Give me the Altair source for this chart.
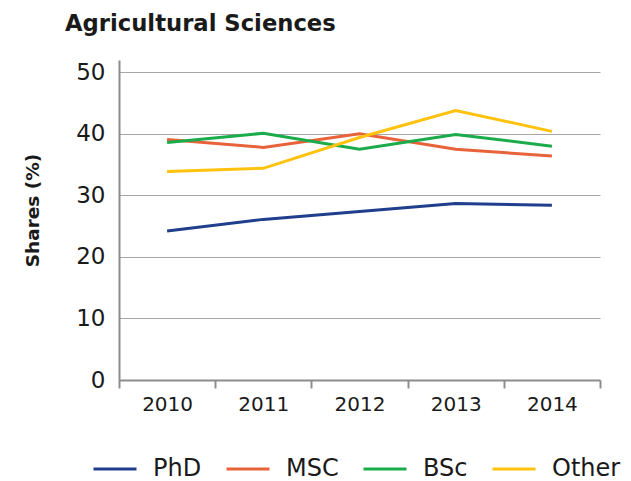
import altair as alt
import pandas as pd

years = ["2010", "2011", "2012", "2013", "2014"]
series = ["PhD", "MSC", "BSc", "Other"]
phd = [24.2, 26.1, 27.4, 28.7, 28.4]
msc = [39.1, 37.8, 40.0, 37.5, 36.4]
bsc = [38.6, 40.1, 37.5, 39.9, 38.0]
other = [33.9, 34.4, 39.4, 43.8, 40.4]
colors = ["#1f3e8c", "#e8623a", "#1aab4a", "#ffc20e"]

rows = []
for name, vals in zip(series, [phd, msc, bsc, other]):
    for y, v in zip(years, vals):
        rows.append({"Year": y, "Series": name, "Share": v})
df = pd.DataFrame(rows)

FONT = "DejaVu Sans"
TXT = "#1a1a1a"
GRAY = "#8c8c8c"

lines = alt.Chart(df).mark_line(strokeWidth=3).encode(
    x=alt.X("Year:O", sort=years, bandPosition=0.5,
            scale=alt.Scale(type="band", paddingInner=0, paddingOuter=0),
            axis=alt.Axis(title=None, tickBand="extent", labelAngle=0,
                          labelFontSize=20, labelColor=TXT, labelFont=FONT,
                          domainColor=GRAY, domainWidth=2, tickColor=GRAY,
                          tickWidth=2, tickSize=8, labelPadding=6, grid=False)),
    y=alt.Y("Share:Q", scale=alt.Scale(domain=[0, 52], nice=False),
            axis=alt.Axis(values=[0, 10, 20, 30, 40, 50], title="Shares (%)",
                          titleFontSize=18.5, titleFont=FONT, titleFontWeight="bold",
                          titleColor=TXT, titleX=-77, titleY=150, titleAngle=-90,
                          labelFontSize=23, labelColor=TXT, labelFont=FONT,
                          ticks=False, labelPadding=14, domainColor=GRAY,
                          domainWidth=2, grid=True, gridColor="#a6a6a6",
                          gridWidth=1)),
    color=alt.Color("Series:N", sort=series,
                    scale=alt.Scale(domain=series, range=colors),
                    legend=alt.Legend(title=None, orient="none", direction="horizontal",
                                      legendX=-27, legendY=386, symbolType="M-1,0H1",
                                      symbolSize=1849, symbolStrokeWidth=3,
                                      symbolOpacity=1,
                                      labelFontSize=24, labelFont=FONT, labelColor=TXT,
                                      labelOffset=15, columnPadding=18, padding=0)),
)

chart = lines.properties(
    width=481, height=320,
    title=alt.TitleParams("Agricultural Sciences", anchor="start", dx=-54,
                          fontSize=22.7, font=FONT, fontWeight="bold", color=TXT,
                          offset=24, frame="group"),
    autosize=alt.AutoSizeParams(type="none"),
    padding={"left": 111, "top": 52, "right": 23, "bottom": 110},
).configure_view(stroke=None)

chart.save("out.html", embed_options={"renderer": "svg", "actions": False})
